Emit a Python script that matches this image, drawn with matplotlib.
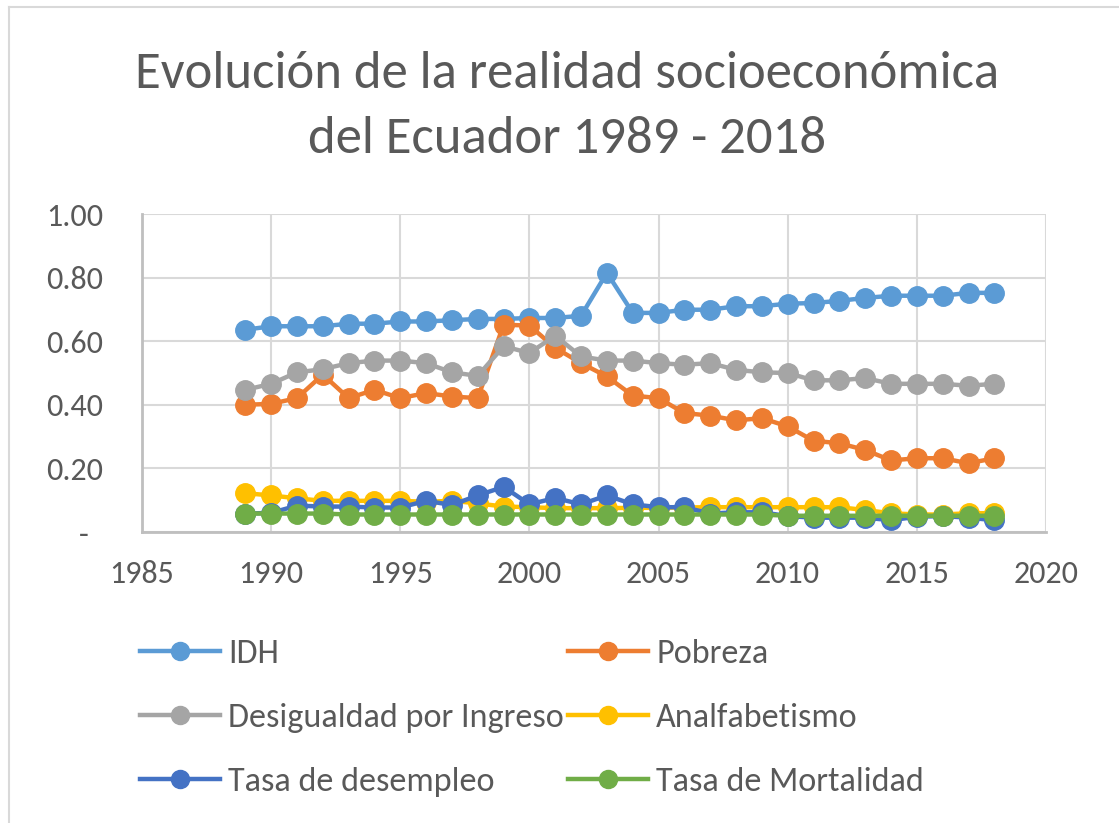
import numpy as np
import matplotlib
matplotlib.use("Agg")
import matplotlib.pyplot as plt
from matplotlib.lines import Line2D
from matplotlib import font_manager

years = list(range(1989, 2019))

idh = [0.636, 0.647, 0.647, 0.647, 0.655, 0.655, 0.662, 0.662, 0.666, 0.670,
       0.670, 0.673, 0.673, 0.680, 0.815, 0.689, 0.689, 0.699, 0.699, 0.710,
       0.710, 0.718, 0.720, 0.727, 0.736, 0.743, 0.743, 0.743, 0.752, 0.752]
pobreza = [0.400, 0.403, 0.421, 0.495, 0.421, 0.447, 0.421, 0.437, 0.426, 0.421,
           0.652, 0.649, 0.579, 0.531, 0.489, 0.429, 0.421, 0.374, 0.366, 0.351,
           0.358, 0.332, 0.287, 0.279, 0.258, 0.225, 0.232, 0.232, 0.216, 0.232]
desigualdad = [0.447, 0.466, 0.502, 0.512, 0.531, 0.539, 0.539, 0.531, 0.502, 0.491,
               0.584, 0.563, 0.617, 0.552, 0.539, 0.539, 0.531, 0.526, 0.531, 0.510,
               0.502, 0.500, 0.477, 0.477, 0.484, 0.466, 0.466, 0.466, 0.460, 0.466]
analfabetismo = [0.122, 0.115, 0.106, 0.098, 0.098, 0.098, 0.098, 0.095, 0.098, 0.090,
                 0.080, 0.078, 0.075, 0.075, 0.075, 0.076, 0.076, 0.077, 0.078, 0.078,
                 0.078, 0.078, 0.078, 0.078, 0.069, 0.059, 0.055, 0.055, 0.059, 0.059]
desempleo = [0.058, 0.060, 0.083, 0.080, 0.080, 0.077, 0.077, 0.098, 0.085, 0.115,
             0.142, 0.087, 0.107, 0.087, 0.115, 0.087, 0.078, 0.078, 0.058, 0.062,
             0.062, 0.050, 0.045, 0.045, 0.045, 0.037, 0.048, 0.050, 0.045, 0.037]
mortalidad = [0.058, 0.058, 0.058, 0.058, 0.055, 0.055, 0.055, 0.055, 0.055, 0.055,
              0.055, 0.055, 0.055, 0.055, 0.055, 0.055, 0.055, 0.055, 0.055, 0.055,
              0.055, 0.051, 0.051, 0.051, 0.051, 0.051, 0.051, 0.051, 0.051, 0.051]

labels = ["IDH", "Pobreza", "Desigualdad por Ingreso", "Analfabetismo",
          "Tasa de desempleo", "Tasa de Mortalidad"]
series = [idh, pobreza, desigualdad, analfabetismo, desempleo, mortalidad]
colors = ["#5B9BD5", "#ED7D31", "#A5A5A5", "#FFC000", "#4472C4", "#70AD47"]

# Calibri look-alike if available
names = {f.name for f in font_manager.fontManager.ttflist}
base = 'Carlito' if 'Carlito' in names else 'Lato'
plt.rcParams['font.family'] = [base, 'DejaVu Sans']
txt = "#595959"

W, H = 1119, 823
fig = plt.figure(figsize=(W / 100, H / 100), dpi=100)
# chart border, only top and left are inside the crop
fig.add_artist(Line2D([9 / W, 1.0], [1 - 7 / H, 1 - 7 / H], transform=fig.transFigure,
                      color="#D9D9D9", lw=1.5))
fig.add_artist(Line2D([9 / W, 9 / W], [0, 1 - 7 / H], transform=fig.transFigure,
                      color="#D9D9D9", lw=1.5))

ax = fig.add_axes([142 / W, 1 - 532 / H, (1046 - 142) / W, (532 - 214) / H])

for vals, lab, col in zip(series, labels, colors):
    ax.plot(years, vals, color=col, lw=3.2, marker='o', ms=14, label=lab)

ax.set_xlim(1985, 2020)
ax.set_ylim(0, 1.0)
ax.set_xticks(range(1985, 2021, 5))
yt = np.arange(0, 1.01, 0.2)
ax.set_yticks(yt)
ax.set_yticklabels(["-\u00a0\u00a0" if v == 0 else f"{v:.2f}" for v in yt])
ax.grid(True, color="#D9D9D9", lw=1.5)
ax.set_axisbelow(True)
for s in ["top", "right"]:
    ax.spines[s].set_visible(False)
for s in ["left", "bottom"]:
    ax.spines[s].set_color("#BFBFBF")
    ax.spines[s].set_linewidth(2)
ax.tick_params(length=0, labelsize=23, colors=txt)
ax.tick_params(axis='y', pad=28)
ax.tick_params(axis='x', pad=20)

fig.text(567 / W, 1 - 88 / H, "Evolución de la realidad socioeconómica",
         ha='center', va='baseline', fontsize=38, color=txt)
fig.text(567 / W, 1 - 153 / H, "del Ecuador 1989 - 2018",
         ha='center', va='baseline', fontsize=38, color=txt)

# legend, excel row order -> matplotlib column order
h = [Line2D([], [], color=c, lw=3.2, marker='o', ms=13) for c in colors]
order = [0, 2, 4, 1, 3, 5]
fig.legend([h[i] for i in order], [labels[i] for i in order], ncol=2,
           loc='upper left', bbox_to_anchor=(140 / W, 1 - 639 / H), frameon=False,
           fontsize=24.6, labelcolor=txt,
           handlelength=2.35, handletextpad=0.23,
           columnspacing=0.12, labelspacing=1.0, borderaxespad=0, borderpad=0)

fig.savefig("out.png", dpi=100)
